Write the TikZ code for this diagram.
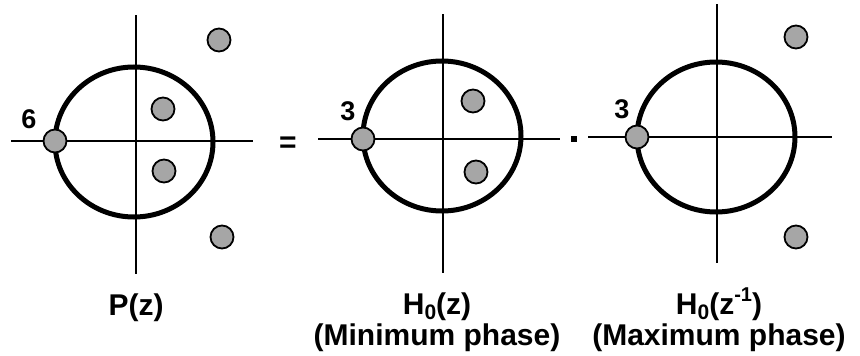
\documentclass[tikz,border=0pt]{standalone}
\usepackage{fontspec}
\setmainfont{Liberation Sans}
\definecolor{zgray}{RGB}{166,166,166}
\newcommand{\subz}{\raisebox{-0.17em}{\fontsize{21}{21}\selectfont 0}}
\newcommand{\supm}{\raisebox{0.42em}{\fontsize{20}{20}\selectfont -1}}
\begin{document}
\begin{tikzpicture}[x=1pt,y=-1pt,
  axisline/.style={line width=2.2pt},
  unitc/.style={line width=5pt},
  zero/.style={circle, draw, line width=1.8pt, fill=zgray, minimum size=23pt, inner sep=0pt},
  lab/.style={font=\bfseries\fontsize{30}{30.5}\selectfont, inner sep=0pt, anchor=base, align=center},
  mult/.style={font=\bfseries\fontsize{27}{30}\selectfont, inner sep=0pt, anchor=base}]
\useasboundingbox (0,0) rectangle (860,356);
% ---------- panel 1: P(z)
\coordinate (p1l) at (11,141);  \coordinate (p1r) at (253,141);
\coordinate (p1t) at (136,15);  \coordinate (p1b) at (136,274);
\draw[axisline] (p1l) -- (p1r);
\draw[axisline] (p1t) -- (p1b);
\draw[unitc] (134,142) ellipse [x radius=79, y radius=75];
\node[zero] (z1a) at (219,40) {};
\node[zero] (z1b) at (163,109) {};
\node[zero] (z1c) at (164,171) {};
\node[zero] (z1d) at (222,237) {};
\node[zero] (z1e) at (55,141) {};
\node[mult] (m1) at (29,128) {6};
\node[lab] (t1) at (136,315) {P(z)};
\node[lab] (eq) at (288,152) {=};
% ---------- panel 2: H0(z)
\coordinate (p2l) at (318,139);  \coordinate (p2r) at (560,139);
\coordinate (p2t) at (443,14);   \coordinate (p2b) at (443,273);
\draw[axisline] (p2l) -- (p2r);
\draw[axisline] (p2t) -- (p2b);
\draw[unitc] (442,136) ellipse [x radius=79, y radius=75];
\node[zero] (z2b) at (473,101) {};
\node[zero] (z2c) at (476,172) {};
\node[zero] (z2e) at (363,139) {};
\node[mult] (m2) at (348,120) {3};
\node[lab] (t2) at (437,345) {H\subz(z)\\(Minimum phase)};
\node[fill=black, inner sep=0pt, minimum size=6pt] (dot) at (574,139) {};
% ---------- panel 3: H0(z^-1)
\coordinate (p3l) at (588,137);  \coordinate (p3r) at (832,137);
\coordinate (p3t) at (717,4);    \coordinate (p3b) at (717,263);
\draw[axisline] (p3l) -- (p3r);
\draw[axisline] (p3t) -- (p3b);
\draw[unitc] (716,137) ellipse [x radius=79, y radius=75];
\node[zero] (z3a) at (796,37) {};
\node[zero] (z3d) at (796,237) {};
\node[zero] (z3e) at (637,137) {};
\node[mult] (m3) at (622,118) {3};
\node[lab] (t3) at (719,345) {H\subz(z\supm)\\(Maximum phase)};
\end{tikzpicture}
\end{document}
